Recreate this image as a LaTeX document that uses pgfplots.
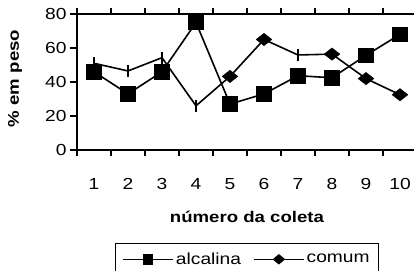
\documentclass[border=0pt]{standalone}
\usepackage{fontspec}
\setmainfont[FakeStretch=1.2]{Liberation Sans}
\usepackage{pgfplots}
\pgfplotsset{compat=1.18}
\begin{document}
\begin{tikzpicture}
\pgfplotstableread{
x y
1 46
2 33
3 46
4 75
5 27
6 33
7 43.7
8 42.5
9 55.7
10 68
}\alcalina
\pgfplotstableread{
x y
1 51
2 46.5
3 54.3
4 26
5 43.3
6 65
7 55.9
8 56.4
9 42
10 32.5
}\comum
\begin{axis}[
  at={(77pt,120pt)}, anchor=south west,
  scale only axis, width=340pt, height=136pt,
  xmin=0.5, xmax=10.5, ymin=0, ymax=80,
  xtick={1,...,10}, minor xtick={0.5,1.5,...,10.5},
  ytick={0,20,...,80},
  tick align=outside, major tick length=7pt, minor tick length=6pt,
  major x tick style={draw=none},
  every tick/.append style={line width=1.3pt, black},
  axis line style={line width=1.5pt},
  /pgf/number format/assume math mode=true,
  tick label style={font=\fontsize{16}{19}\selectfont},
  xticklabel style={anchor=base, yshift=-32pt},
  yticklabel style={anchor=east},
  xlabel={\textbf{número da coleta}},
  ylabel={\textbf{\% em peso}},
  label style={font=\fontsize{15.5}{18}\selectfont},
  x label style={at={(axis description cs:0.5,0)}, anchor=base, yshift=-72pt},
  y label style={at={(axis description cs:-0.182,0.526)}, anchor=center},
  legend columns=2,
  legend style={at={(axis description cs:0.5,-0.685)}, anchor=north,
    draw=black, line width=1.2pt, font=\fontsize{16}{19}\selectfont,
    inner xsep=7pt, inner ysep=7pt,
    /tikz/every even column/.append style={column sep=10pt}},
  legend image code/.code={
    \draw[#1, mark repeat=2, mark phase=2] plot coordinates {(0pt,0pt) (25pt,0pt) (50pt,0pt)};},
]
\addlegendimage{black, line width=1.6pt, mark=square*, mark size=4.5pt}
\addlegendentry{alcalina}
\addlegendimage{black, line width=1.6pt, mark=diamond*, mark size=4.2pt, mark options={xscale=1.6}}
\addlegendentry{comum}
\addplot[black, line width=1.6pt, mark=square*, mark size=7pt, forget plot]
  table[x=x,y=y] {\alcalina};
\addplot[black, line width=1.6pt, no marks, forget plot] table[x=x,y=y] {\comum};
\addplot[black, only marks, mark=diamond*, mark size=6.2pt,
  mark indices={5,6,8,9,10}, mark options={xscale=1.7}, forget plot] table[x=x,y=y] {\comum};
\addplot[black, line width=1.5pt, only marks, mark=|, mark size=6pt,
  mark indices={1,2,3,4,7}, forget plot] table[x=x,y=y] {\comum};
\end{axis}
\pgfresetboundingbox
\path (0pt,0pt) rectangle (414pt,270pt);
\end{tikzpicture}
\end{document}
